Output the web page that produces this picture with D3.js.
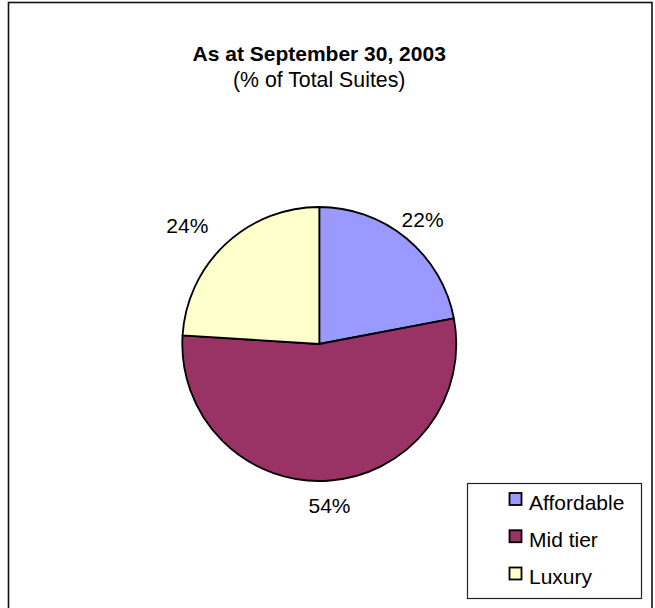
<!DOCTYPE html>
<html>
<head>
<meta charset="utf-8">
<script src="https://cdn.jsdelivr.net/npm/d3@7"></script>
<style>
  html, body { margin: 0; padding: 0; background: #fff; }
  svg { display: block; font-family: "Liberation Sans", Arial, sans-serif; }
</style>
</head>
<body>
<svg id="chart" width="655" height="608"></svg>
<script>
// ---- data ----
const categories = ["Affordable", "Mid tier", "Luxury"];
const values = [22, 54, 24];
const valueLabels = ["22%", "54%", "24%"];
const colors = ["#9999FF", "#993366", "#FFFFCC"];
const titleText = "As at September 30, 2003";
const subtitleText = "(% of Total Suites)";

// ---- layout ----
const cx = 319.3, cy = 344, radius = 137;
const svg = d3.select("#chart");

// outer chart border
svg.append("rect")
  .attr("x", 8.5).attr("y", 2.5)
  .attr("width", 643.5).attr("height", 612)
  .attr("fill", "#fff")
  .attr("stroke", "#111").attr("stroke-width", 1.6);

// titles
svg.append("text")
  .attr("x", 319.2).attr("y", 61)
  .attr("text-anchor", "middle")
  .attr("font-size", 21).attr("font-weight", "bold")
  .attr("fill", "#000")
  .text(titleText);
svg.append("text")
  .attr("x", 319.2).attr("y", 87)
  .attr("text-anchor", "middle")
  .attr("font-size", 21.3)
  .attr("fill", "#000")
  .text(subtitleText);

// pie
const data = categories.map((c, i) => ({ cat: c, value: values[i], label: valueLabels[i], color: colors[i] }));
const pie = d3.pie().value(d => d.value).sort(null);
const arcs = pie(data);
const arc = d3.arc().innerRadius(0).outerRadius(radius);
const labelR = 162;
const labelArc = d3.arc().innerRadius(labelR).outerRadius(labelR);

const g = svg.append("g").attr("transform", `translate(${cx},${cy})`);
g.selectAll("path.slice")
  .data(arcs)
  .join("path")
  .attr("class", "slice")
  .attr("d", arc)
  .attr("fill", d => d.data.color)
  .attr("stroke", "#000")
  .attr("stroke-width", 1.8)
  .attr("stroke-linejoin", "round");

const midAngle = d => (d.startAngle + d.endAngle) / 2;
g.selectAll("text.lbl")
  .data(arcs)
  .join("text")
  .attr("class", "lbl")
  .attr("transform", d => {
    const [x, y] = labelArc.centroid(d);
    return `translate(${x},${y})`;
  })
  .attr("text-anchor", d => (midAngle(d) > 1.1 * Math.PI ? "end" : "middle"))
  .attr("dy", "0.35em")
  .attr("font-size", 21)
  .attr("fill", "#000")
  .text(d => d.data.label);

// legend
const lg = svg.append("g");
lg.append("rect")
  .attr("x", 467.5).attr("y", 483.5)
  .attr("width", 174).attr("height", 115)
  .attr("fill", "#fff")
  .attr("stroke", "#222").attr("stroke-width", 1.2);

const legendY = d3.scalePoint().domain(categories).range([493, 567.5]);
const items = lg.selectAll("g.item")
  .data(data)
  .join("g")
  .attr("class", "item")
  .attr("transform", d => `translate(509.5,${legendY(d.cat)})`);
items.append("rect")
  .attr("x", 0).attr("y", 0)
  .attr("width", 12).attr("height", 12)
  .attr("fill", d => d.color)
  .attr("stroke", "#000").attr("stroke-width", 1.8);
items.append("text")
  .attr("x", 19.5).attr("y", 16.5)
  .attr("font-size", 21)
  .attr("fill", "#000")
  .text(d => d.cat);
</script>
</body>
</html>
